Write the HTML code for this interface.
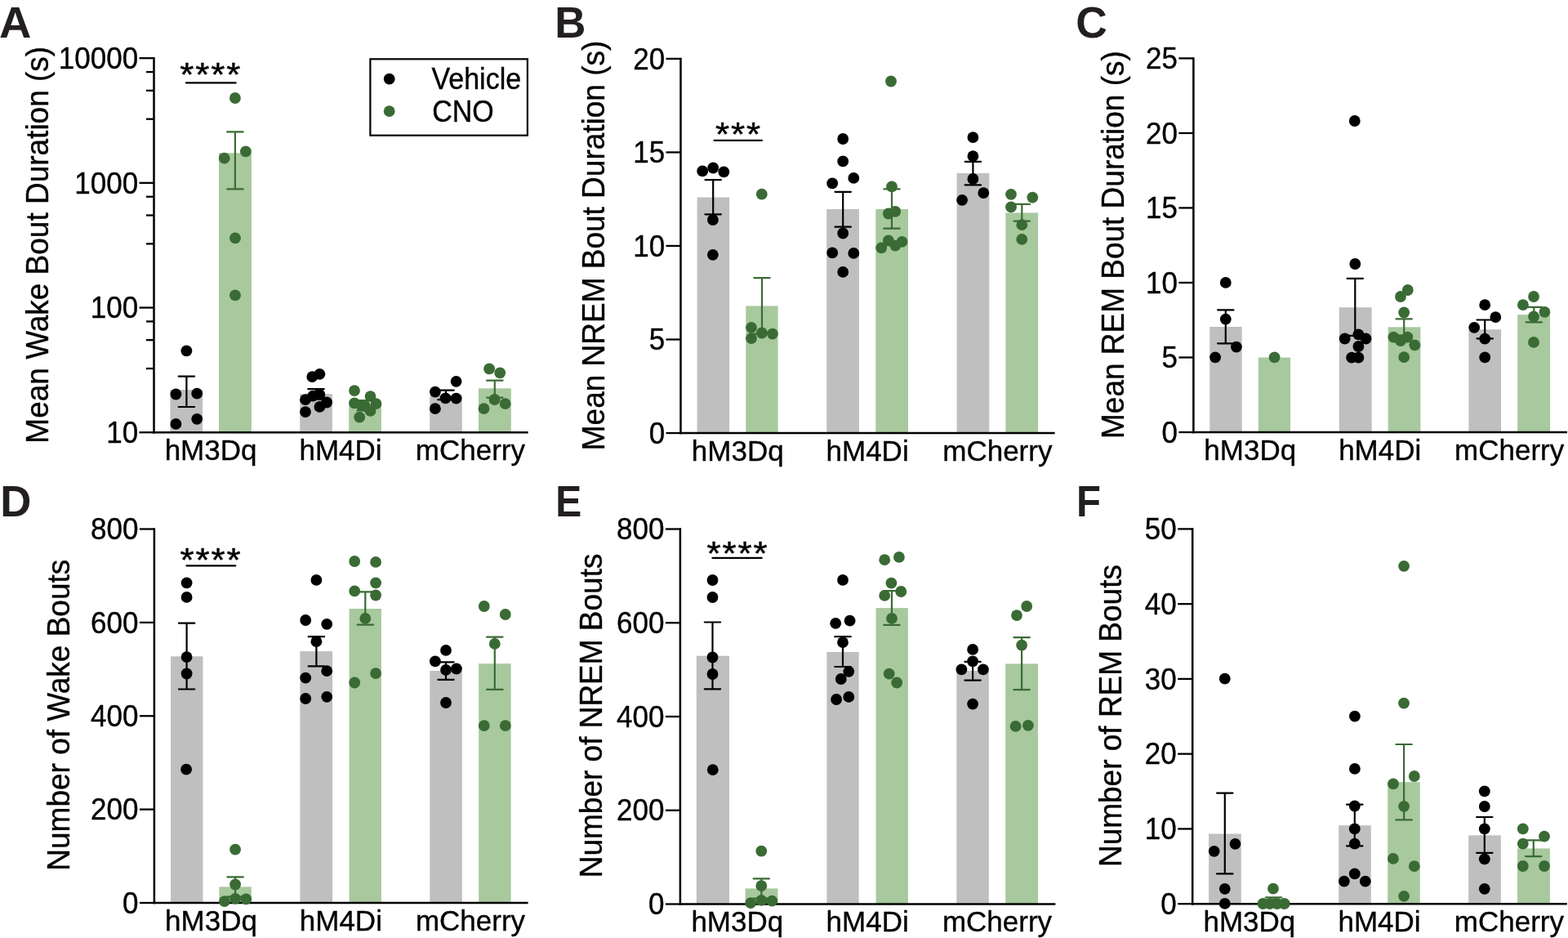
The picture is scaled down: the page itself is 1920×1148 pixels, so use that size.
<!DOCTYPE html>
<html><head><meta charset="utf-8"><title>Chemogenetic manipulation: bout duration and number of bouts</title>
<style>
html,body{margin:0;padding:0;background:#fff;}
svg{display:block;}
svg text{font-family:'Liberation Sans', Arial, Helvetica, sans-serif;}
</style></head>
<body>
<svg width="1920" height="1148" viewBox="0 0 1920 1148">
<rect x="0" y="0" width="1920" height="1148" fill="#ffffff"/>
<rect x="208.4" y="477.1" width="39.7" height="52.1" fill="#bfbfbf"/>
<rect x="268" y="187.3" width="39.9" height="341.9" fill="#a8c89e"/>
<rect x="367.2" y="482.2" width="39.7" height="47" fill="#bfbfbf"/>
<rect x="427.2" y="496.3" width="39.7" height="32.9" fill="#a8c89e"/>
<rect x="526.2" y="483.4" width="39.6" height="45.8" fill="#bfbfbf"/>
<rect x="586" y="475.3" width="39.8" height="53.9" fill="#a8c89e"/>
<line x1="188.5" y1="70.05" x2="188.5" y2="530.45" stroke="#000000" stroke-width="2.5" stroke-linecap="butt"/>
<line x1="187.25" y1="529.2" x2="646.6" y2="529.2" stroke="#000000" stroke-width="2.5" stroke-linecap="butt"/>
<line x1="170.5" y1="529.2" x2="188.5" y2="529.2" stroke="#000000" stroke-width="2.3" stroke-linecap="butt"/>
<text transform="translate(169.1,541.9) scale(1.0,1.07)" font-size="35" text-anchor="end" font-weight="normal" fill="#000000" stroke="#000000" stroke-width="0.35">10</text>
<line x1="170.5" y1="376.53" x2="188.5" y2="376.53" stroke="#000000" stroke-width="2.3" stroke-linecap="butt"/>
<text transform="translate(169.1,389.23) scale(1.0,1.07)" font-size="35" text-anchor="end" font-weight="normal" fill="#000000" stroke="#000000" stroke-width="0.35">100</text>
<line x1="170.5" y1="223.86" x2="188.5" y2="223.86" stroke="#000000" stroke-width="2.3" stroke-linecap="butt"/>
<text transform="translate(169.1,236.56) scale(1.0,1.07)" font-size="35" text-anchor="end" font-weight="normal" fill="#000000" stroke="#000000" stroke-width="0.35">1000</text>
<line x1="170.5" y1="71.19" x2="188.5" y2="71.19" stroke="#000000" stroke-width="2.3" stroke-linecap="butt"/>
<text transform="translate(169.1,83.89) scale(1.0,1.07)" font-size="35" text-anchor="end" font-weight="normal" fill="#000000" stroke="#000000" stroke-width="0.35">10000</text>
<line x1="179" y1="451.05" x2="188.5" y2="451.05" stroke="#000000" stroke-width="2.3" stroke-linecap="butt"/>
<line x1="179" y1="416.17" x2="188.5" y2="416.17" stroke="#000000" stroke-width="2.3" stroke-linecap="butt"/>
<line x1="179" y1="393.43" x2="188.5" y2="393.43" stroke="#000000" stroke-width="2.3" stroke-linecap="butt"/>
<line x1="179" y1="298.38" x2="188.5" y2="298.38" stroke="#000000" stroke-width="2.3" stroke-linecap="butt"/>
<line x1="179" y1="263.5" x2="188.5" y2="263.5" stroke="#000000" stroke-width="2.3" stroke-linecap="butt"/>
<line x1="179" y1="240.76" x2="188.5" y2="240.76" stroke="#000000" stroke-width="2.3" stroke-linecap="butt"/>
<line x1="179" y1="145.71" x2="188.5" y2="145.71" stroke="#000000" stroke-width="2.3" stroke-linecap="butt"/>
<line x1="179" y1="110.83" x2="188.5" y2="110.83" stroke="#000000" stroke-width="2.3" stroke-linecap="butt"/>
<line x1="179" y1="88.09" x2="188.5" y2="88.09" stroke="#000000" stroke-width="2.3" stroke-linecap="butt"/>
<text transform="translate(258.05,563.1)" font-size="35" text-anchor="middle" font-weight="normal" fill="#000000" stroke="#000000" stroke-width="0.35">hM3Dq</text>
<text transform="translate(417.05,563.1)" font-size="35" text-anchor="middle" font-weight="normal" fill="#000000" stroke="#000000" stroke-width="0.35">hM4Di</text>
<text transform="translate(575.9,563.1)" font-size="35" text-anchor="middle" font-weight="normal" fill="#000000" stroke="#000000" stroke-width="0.35">mCherry</text>
<text transform="translate(59.1,299.75) rotate(-90) scale(1.0,1.06)" font-size="37" text-anchor="middle" font-weight="normal" fill="#000000" stroke="#000000" stroke-width="0.35">Mean Wake Bout Duration (s)</text>
<line x1="228.4" y1="460.6" x2="228.4" y2="498" stroke="#000000" stroke-width="2.2" stroke-linecap="butt"/>
<line x1="218.7" y1="460.6" x2="238.1" y2="460.6" stroke="#000000" stroke-width="2.2" stroke-linecap="round"/>
<line x1="218.7" y1="498" x2="238.1" y2="498" stroke="#000000" stroke-width="2.2" stroke-linecap="round"/>
<line x1="287.9" y1="161.4" x2="287.9" y2="231.4" stroke="#3a6b34" stroke-width="2.2" stroke-linecap="butt"/>
<line x1="278.2" y1="161.4" x2="297.6" y2="161.4" stroke="#3a6b34" stroke-width="2.2" stroke-linecap="round"/>
<line x1="278.2" y1="231.4" x2="297.6" y2="231.4" stroke="#3a6b34" stroke-width="2.2" stroke-linecap="round"/>
<line x1="387" y1="476.2" x2="387" y2="488.2" stroke="#000000" stroke-width="2.2" stroke-linecap="butt"/>
<line x1="377.3" y1="476.2" x2="396.7" y2="476.2" stroke="#000000" stroke-width="2.2" stroke-linecap="round"/>
<line x1="377.3" y1="488.2" x2="396.7" y2="488.2" stroke="#000000" stroke-width="2.2" stroke-linecap="round"/>
<line x1="447" y1="490" x2="447" y2="502.5" stroke="#3a6b34" stroke-width="2.2" stroke-linecap="butt"/>
<line x1="437.3" y1="490" x2="456.7" y2="490" stroke="#3a6b34" stroke-width="2.2" stroke-linecap="round"/>
<line x1="437.3" y1="502.5" x2="456.7" y2="502.5" stroke="#3a6b34" stroke-width="2.2" stroke-linecap="round"/>
<line x1="546" y1="477.7" x2="546" y2="489.2" stroke="#000000" stroke-width="2.2" stroke-linecap="butt"/>
<line x1="536.3" y1="477.7" x2="555.7" y2="477.7" stroke="#000000" stroke-width="2.2" stroke-linecap="round"/>
<line x1="536.3" y1="489.2" x2="555.7" y2="489.2" stroke="#000000" stroke-width="2.2" stroke-linecap="round"/>
<line x1="605.8" y1="465.7" x2="605.8" y2="486.6" stroke="#3a6b34" stroke-width="2.2" stroke-linecap="butt"/>
<line x1="596.1" y1="465.7" x2="615.5" y2="465.7" stroke="#3a6b34" stroke-width="2.2" stroke-linecap="round"/>
<line x1="596.1" y1="486.6" x2="615.5" y2="486.6" stroke="#3a6b34" stroke-width="2.2" stroke-linecap="round"/>
<circle cx="228.4" cy="429.3" r="6.9" fill="#000000"/>
<circle cx="215.4" cy="482.5" r="6.9" fill="#000000"/>
<circle cx="241.2" cy="481.6" r="6.9" fill="#000000"/>
<circle cx="241.2" cy="512.8" r="6.9" fill="#000000"/>
<circle cx="215.4" cy="518.9" r="6.9" fill="#000000"/>
<circle cx="287.9" cy="120" r="6.9" fill="#3a6b34"/>
<circle cx="274.7" cy="193.7" r="6.9" fill="#3a6b34"/>
<circle cx="300.9" cy="185.4" r="6.9" fill="#3a6b34"/>
<circle cx="288" cy="291.4" r="6.9" fill="#3a6b34"/>
<circle cx="288" cy="361.4" r="6.9" fill="#3a6b34"/>
<circle cx="382.3" cy="461.1" r="6.9" fill="#000000"/>
<circle cx="391.4" cy="457.8" r="6.9" fill="#000000"/>
<circle cx="374" cy="489.2" r="6.9" fill="#000000"/>
<circle cx="383.1" cy="484.7" r="6.9" fill="#000000"/>
<circle cx="391.4" cy="483" r="6.9" fill="#000000"/>
<circle cx="400.1" cy="492.5" r="6.9" fill="#000000"/>
<circle cx="391.4" cy="497.9" r="6.9" fill="#000000"/>
<circle cx="374" cy="504.1" r="6.9" fill="#000000"/>
<circle cx="434" cy="478.1" r="6.9" fill="#3a6b34"/>
<circle cx="453.5" cy="485.1" r="6.9" fill="#3a6b34"/>
<circle cx="434" cy="493.4" r="6.9" fill="#3a6b34"/>
<circle cx="460.5" cy="494.2" r="6.9" fill="#3a6b34"/>
<circle cx="442.7" cy="496.3" r="6.9" fill="#3a6b34"/>
<circle cx="447" cy="497" r="6.9" fill="#3a6b34"/>
<circle cx="453.5" cy="502.9" r="6.9" fill="#3a6b34"/>
<circle cx="440.2" cy="510.7" r="6.9" fill="#3a6b34"/>
<circle cx="558.6" cy="466.8" r="6.9" fill="#000000"/>
<circle cx="532.9" cy="479.6" r="6.9" fill="#000000"/>
<circle cx="545.5" cy="487.3" r="6.9" fill="#000000"/>
<circle cx="558.6" cy="487.7" r="6.9" fill="#000000"/>
<circle cx="532.9" cy="500.2" r="6.9" fill="#000000"/>
<circle cx="599.1" cy="451.4" r="6.9" fill="#3a6b34"/>
<circle cx="612.2" cy="456.3" r="6.9" fill="#3a6b34"/>
<circle cx="605.6" cy="489" r="6.9" fill="#3a6b34"/>
<circle cx="618.7" cy="494.2" r="6.9" fill="#3a6b34"/>
<circle cx="592.5" cy="500.2" r="6.9" fill="#3a6b34"/>
<text transform="translate(220.22,104.63) scale(1.0,0.93)" font-size="44" text-anchor="start" font-weight="normal" fill="#000000" stroke="#000000" stroke-width="0.5" letter-spacing="1.9">****</text>
<line x1="227.9" y1="101.3" x2="288.7" y2="101.3" stroke="#000000" stroke-width="2.2" stroke-linecap="round"/>
<text transform="translate(-1.08,46.3)" font-size="54.5" text-anchor="start" font-weight="bold" fill="#231f20">A</text>
<rect x="853.6" y="241.5" width="39.5" height="288.5" fill="#bfbfbf"/>
<rect x="913.3" y="374.4" width="39.3" height="155.6" fill="#a8c89e"/>
<rect x="1012.2" y="255.9" width="39.7" height="274.1" fill="#bfbfbf"/>
<rect x="1072.3" y="255.9" width="39.7" height="274.1" fill="#a8c89e"/>
<rect x="1171.6" y="212" width="39.7" height="318" fill="#bfbfbf"/>
<rect x="1231.4" y="260.4" width="39.7" height="269.6" fill="#a8c89e"/>
<line x1="833.5" y1="70.75" x2="833.5" y2="531.25" stroke="#000000" stroke-width="2.5" stroke-linecap="butt"/>
<line x1="832.25" y1="530" x2="1291.6" y2="530" stroke="#000000" stroke-width="2.5" stroke-linecap="butt"/>
<line x1="815.5" y1="530" x2="833.5" y2="530" stroke="#000000" stroke-width="2.3" stroke-linecap="butt"/>
<text transform="translate(814.1,542.7) scale(1.0,1.07)" font-size="35" text-anchor="end" font-weight="normal" fill="#000000" stroke="#000000" stroke-width="0.35">0</text>
<line x1="815.5" y1="415.48" x2="833.5" y2="415.48" stroke="#000000" stroke-width="2.3" stroke-linecap="butt"/>
<text transform="translate(814.1,428.18) scale(1.0,1.07)" font-size="35" text-anchor="end" font-weight="normal" fill="#000000" stroke="#000000" stroke-width="0.35">5</text>
<line x1="815.5" y1="300.95" x2="833.5" y2="300.95" stroke="#000000" stroke-width="2.3" stroke-linecap="butt"/>
<text transform="translate(814.1,313.65) scale(1.0,1.07)" font-size="35" text-anchor="end" font-weight="normal" fill="#000000" stroke="#000000" stroke-width="0.35">10</text>
<line x1="815.5" y1="186.42" x2="833.5" y2="186.42" stroke="#000000" stroke-width="2.3" stroke-linecap="butt"/>
<text transform="translate(814.1,199.12) scale(1.0,1.07)" font-size="35" text-anchor="end" font-weight="normal" fill="#000000" stroke="#000000" stroke-width="0.35">15</text>
<line x1="815.5" y1="71.9" x2="833.5" y2="71.9" stroke="#000000" stroke-width="2.3" stroke-linecap="butt"/>
<text transform="translate(814.1,84.6) scale(1.0,1.07)" font-size="35" text-anchor="end" font-weight="normal" fill="#000000" stroke="#000000" stroke-width="0.35">20</text>
<text transform="translate(903.2,563.9)" font-size="35" text-anchor="middle" font-weight="normal" fill="#000000" stroke="#000000" stroke-width="0.35">hM3Dq</text>
<text transform="translate(1062.1,563.9)" font-size="35" text-anchor="middle" font-weight="normal" fill="#000000" stroke="#000000" stroke-width="0.35">hM4Di</text>
<text transform="translate(1221.35,563.9)" font-size="35" text-anchor="middle" font-weight="normal" fill="#000000" stroke="#000000" stroke-width="0.35">mCherry</text>
<text transform="translate(740,300.45) rotate(-90) scale(1.0,1.06)" font-size="37" text-anchor="middle" font-weight="normal" fill="#000000" stroke="#000000" stroke-width="0.35">Mean NREM Bout Duration (s)</text>
<line x1="873.2" y1="220.1" x2="873.2" y2="262.3" stroke="#000000" stroke-width="2.2" stroke-linecap="butt"/>
<line x1="863.5" y1="220.1" x2="882.9" y2="220.1" stroke="#000000" stroke-width="2.2" stroke-linecap="round"/>
<line x1="863.5" y1="262.3" x2="882.9" y2="262.3" stroke="#000000" stroke-width="2.2" stroke-linecap="round"/>
<line x1="933" y1="340.1" x2="933" y2="408.7" stroke="#3a6b34" stroke-width="2.2" stroke-linecap="butt"/>
<line x1="923.3" y1="340.1" x2="942.7" y2="340.1" stroke="#3a6b34" stroke-width="2.2" stroke-linecap="round"/>
<line x1="923.3" y1="408.7" x2="942.7" y2="408.7" stroke="#3a6b34" stroke-width="2.2" stroke-linecap="round"/>
<line x1="1032.2" y1="234.8" x2="1032.2" y2="277.7" stroke="#000000" stroke-width="2.2" stroke-linecap="butt"/>
<line x1="1022.5" y1="234.8" x2="1041.9" y2="234.8" stroke="#000000" stroke-width="2.2" stroke-linecap="round"/>
<line x1="1022.5" y1="277.7" x2="1041.9" y2="277.7" stroke="#000000" stroke-width="2.2" stroke-linecap="round"/>
<line x1="1092" y1="231.3" x2="1092" y2="279.7" stroke="#3a6b34" stroke-width="2.2" stroke-linecap="butt"/>
<line x1="1082.3" y1="231.3" x2="1101.7" y2="231.3" stroke="#3a6b34" stroke-width="2.2" stroke-linecap="round"/>
<line x1="1082.3" y1="279.7" x2="1101.7" y2="279.7" stroke="#3a6b34" stroke-width="2.2" stroke-linecap="round"/>
<line x1="1191.4" y1="197.8" x2="1191.4" y2="226.4" stroke="#000000" stroke-width="2.2" stroke-linecap="butt"/>
<line x1="1181.7" y1="197.8" x2="1201.1" y2="197.8" stroke="#000000" stroke-width="2.2" stroke-linecap="round"/>
<line x1="1181.7" y1="226.4" x2="1201.1" y2="226.4" stroke="#000000" stroke-width="2.2" stroke-linecap="round"/>
<line x1="1251.3" y1="249.9" x2="1251.3" y2="270.6" stroke="#3a6b34" stroke-width="2.2" stroke-linecap="butt"/>
<line x1="1241.6" y1="249.9" x2="1261" y2="249.9" stroke="#3a6b34" stroke-width="2.2" stroke-linecap="round"/>
<line x1="1241.6" y1="270.6" x2="1261" y2="270.6" stroke="#3a6b34" stroke-width="2.2" stroke-linecap="round"/>
<circle cx="860.2" cy="209.4" r="6.9" fill="#000000"/>
<circle cx="873.2" cy="205.5" r="6.9" fill="#000000"/>
<circle cx="886.3" cy="210.3" r="6.9" fill="#000000"/>
<circle cx="872.9" cy="269" r="6.9" fill="#000000"/>
<circle cx="872.9" cy="311.8" r="6.9" fill="#000000"/>
<circle cx="932.8" cy="237.7" r="6.9" fill="#3a6b34"/>
<circle cx="920" cy="400.8" r="6.9" fill="#3a6b34"/>
<circle cx="932.9" cy="407.5" r="6.9" fill="#3a6b34"/>
<circle cx="945.9" cy="408.6" r="6.9" fill="#3a6b34"/>
<circle cx="920" cy="414.1" r="6.9" fill="#3a6b34"/>
<circle cx="1032.2" cy="170" r="6.9" fill="#000000"/>
<circle cx="1032.2" cy="197.4" r="6.9" fill="#000000"/>
<circle cx="1045.3" cy="217.9" r="6.9" fill="#000000"/>
<circle cx="1019.2" cy="224.4" r="6.9" fill="#000000"/>
<circle cx="1032.2" cy="285.5" r="6.9" fill="#000000"/>
<circle cx="1019.2" cy="309.4" r="6.9" fill="#000000"/>
<circle cx="1045.3" cy="309.9" r="6.9" fill="#000000"/>
<circle cx="1032.2" cy="332.9" r="6.9" fill="#000000"/>
<circle cx="1091" cy="99.5" r="6.9" fill="#3a6b34"/>
<circle cx="1092" cy="228.4" r="6.9" fill="#3a6b34"/>
<circle cx="1087.9" cy="261.5" r="6.9" fill="#3a6b34"/>
<circle cx="1096.3" cy="258.8" r="6.9" fill="#3a6b34"/>
<circle cx="1087.9" cy="294.5" r="6.9" fill="#3a6b34"/>
<circle cx="1104.5" cy="295.9" r="6.9" fill="#3a6b34"/>
<circle cx="1096.3" cy="300.6" r="6.9" fill="#3a6b34"/>
<circle cx="1079.2" cy="303.3" r="6.9" fill="#3a6b34"/>
<circle cx="1191.4" cy="168.1" r="6.9" fill="#000000"/>
<circle cx="1191.4" cy="191.1" r="6.9" fill="#000000"/>
<circle cx="1191.4" cy="219" r="6.9" fill="#000000"/>
<circle cx="1204.3" cy="236.1" r="6.9" fill="#000000"/>
<circle cx="1178.1" cy="244.8" r="6.9" fill="#000000"/>
<circle cx="1238" cy="237.8" r="6.9" fill="#3a6b34"/>
<circle cx="1264.3" cy="241.6" r="6.9" fill="#3a6b34"/>
<circle cx="1238" cy="253.4" r="6.9" fill="#3a6b34"/>
<circle cx="1251.3" cy="275.2" r="6.9" fill="#3a6b34"/>
<circle cx="1251.3" cy="292.9" r="6.9" fill="#3a6b34"/>
<text transform="translate(875.92,177.53) scale(1.0,0.93)" font-size="44" text-anchor="start" font-weight="normal" fill="#000000" stroke="#000000" stroke-width="0.5" letter-spacing="1.9">***</text>
<line x1="874.5" y1="171.8" x2="933" y2="171.8" stroke="#000000" stroke-width="2.2" stroke-linecap="round"/>
<text transform="translate(679.14,46.3) scale(0.97,1.0)" font-size="54.5" text-anchor="start" font-weight="bold" fill="#231f20">B</text>
<rect x="1481.3" y="400" width="39.4" height="129" fill="#bfbfbf"/>
<rect x="1540.8" y="437.6" width="39.3" height="91.4" fill="#a8c89e"/>
<rect x="1639.8" y="376.2" width="39.9" height="152.8" fill="#bfbfbf"/>
<rect x="1699.7" y="400.3" width="39.7" height="128.7" fill="#a8c89e"/>
<rect x="1798.4" y="403.2" width="39.7" height="125.8" fill="#bfbfbf"/>
<rect x="1858.2" y="385.1" width="39.9" height="143.9" fill="#a8c89e"/>
<line x1="1461.4" y1="70.25" x2="1461.4" y2="530.25" stroke="#000000" stroke-width="2.5" stroke-linecap="butt"/>
<line x1="1460.15" y1="529" x2="1919" y2="529" stroke="#000000" stroke-width="2.5" stroke-linecap="butt"/>
<line x1="1443.4" y1="529" x2="1461.4" y2="529" stroke="#000000" stroke-width="2.3" stroke-linecap="butt"/>
<text transform="translate(1442,541.7) scale(1.0,1.07)" font-size="35" text-anchor="end" font-weight="normal" fill="#000000" stroke="#000000" stroke-width="0.35">0</text>
<line x1="1443.4" y1="437.48" x2="1461.4" y2="437.48" stroke="#000000" stroke-width="2.3" stroke-linecap="butt"/>
<text transform="translate(1442,450.18) scale(1.0,1.07)" font-size="35" text-anchor="end" font-weight="normal" fill="#000000" stroke="#000000" stroke-width="0.35">5</text>
<line x1="1443.4" y1="345.96" x2="1461.4" y2="345.96" stroke="#000000" stroke-width="2.3" stroke-linecap="butt"/>
<text transform="translate(1442,358.66) scale(1.0,1.07)" font-size="35" text-anchor="end" font-weight="normal" fill="#000000" stroke="#000000" stroke-width="0.35">10</text>
<line x1="1443.4" y1="254.44" x2="1461.4" y2="254.44" stroke="#000000" stroke-width="2.3" stroke-linecap="butt"/>
<text transform="translate(1442,267.14) scale(1.0,1.07)" font-size="35" text-anchor="end" font-weight="normal" fill="#000000" stroke="#000000" stroke-width="0.35">15</text>
<line x1="1443.4" y1="162.92" x2="1461.4" y2="162.92" stroke="#000000" stroke-width="2.3" stroke-linecap="butt"/>
<text transform="translate(1442,175.62) scale(1.0,1.07)" font-size="35" text-anchor="end" font-weight="normal" fill="#000000" stroke="#000000" stroke-width="0.35">20</text>
<line x1="1443.4" y1="71.4" x2="1461.4" y2="71.4" stroke="#000000" stroke-width="2.3" stroke-linecap="butt"/>
<text transform="translate(1442,84.1) scale(1.0,1.07)" font-size="35" text-anchor="end" font-weight="normal" fill="#000000" stroke="#000000" stroke-width="0.35">25</text>
<text transform="translate(1530.75,562.9)" font-size="35" text-anchor="middle" font-weight="normal" fill="#000000" stroke="#000000" stroke-width="0.35">hM3Dq</text>
<text transform="translate(1689.7,562.9)" font-size="35" text-anchor="middle" font-weight="normal" fill="#000000" stroke="#000000" stroke-width="0.35">hM4Di</text>
<text transform="translate(1848.15,562.9)" font-size="35" text-anchor="middle" font-weight="normal" fill="#000000" stroke="#000000" stroke-width="0.35">mCherry</text>
<text transform="translate(1376.2,299.6) rotate(-90) scale(1.0,1.06)" font-size="37" text-anchor="middle" font-weight="normal" fill="#000000" stroke="#000000" stroke-width="0.35">Mean REM Bout Duration (s)</text>
<line x1="1500.8" y1="379.3" x2="1500.8" y2="420.3" stroke="#000000" stroke-width="2.2" stroke-linecap="butt"/>
<line x1="1491.1" y1="379.3" x2="1510.5" y2="379.3" stroke="#000000" stroke-width="2.2" stroke-linecap="round"/>
<line x1="1491.1" y1="420.3" x2="1510.5" y2="420.3" stroke="#000000" stroke-width="2.2" stroke-linecap="round"/>
<line x1="1659.3" y1="340.8" x2="1659.3" y2="410.8" stroke="#000000" stroke-width="2.2" stroke-linecap="butt"/>
<line x1="1649.6" y1="340.8" x2="1669" y2="340.8" stroke="#000000" stroke-width="2.2" stroke-linecap="round"/>
<line x1="1649.6" y1="410.8" x2="1669" y2="410.8" stroke="#000000" stroke-width="2.2" stroke-linecap="round"/>
<line x1="1719.2" y1="390.3" x2="1719.2" y2="410.3" stroke="#3a6b34" stroke-width="2.2" stroke-linecap="butt"/>
<line x1="1709.5" y1="390.3" x2="1728.9" y2="390.3" stroke="#3a6b34" stroke-width="2.2" stroke-linecap="round"/>
<line x1="1709.5" y1="410.3" x2="1728.9" y2="410.3" stroke="#3a6b34" stroke-width="2.2" stroke-linecap="round"/>
<line x1="1818.2" y1="391.5" x2="1818.2" y2="414.4" stroke="#000000" stroke-width="2.2" stroke-linecap="butt"/>
<line x1="1808.5" y1="391.5" x2="1827.9" y2="391.5" stroke="#000000" stroke-width="2.2" stroke-linecap="round"/>
<line x1="1808.5" y1="414.4" x2="1827.9" y2="414.4" stroke="#000000" stroke-width="2.2" stroke-linecap="round"/>
<line x1="1878.3" y1="375.8" x2="1878.3" y2="394.3" stroke="#3a6b34" stroke-width="2.2" stroke-linecap="butt"/>
<line x1="1868.6" y1="375.8" x2="1888" y2="375.8" stroke="#3a6b34" stroke-width="2.2" stroke-linecap="round"/>
<line x1="1868.6" y1="394.3" x2="1888" y2="394.3" stroke="#3a6b34" stroke-width="2.2" stroke-linecap="round"/>
<circle cx="1500.8" cy="345.9" r="6.9" fill="#000000"/>
<circle cx="1500.8" cy="390.6" r="6.9" fill="#000000"/>
<circle cx="1513.9" cy="424.6" r="6.9" fill="#000000"/>
<circle cx="1488.1" cy="437.3" r="6.9" fill="#000000"/>
<circle cx="1560.6" cy="437.3" r="6.9" fill="#3a6b34"/>
<circle cx="1658.8" cy="148" r="6.9" fill="#000000"/>
<circle cx="1659.3" cy="323" r="6.9" fill="#000000"/>
<circle cx="1646.7" cy="414.5" r="6.9" fill="#000000"/>
<circle cx="1663.4" cy="409.4" r="6.9" fill="#000000"/>
<circle cx="1672.5" cy="414.5" r="6.9" fill="#000000"/>
<circle cx="1663.4" cy="424" r="6.9" fill="#000000"/>
<circle cx="1655.1" cy="437.7" r="6.9" fill="#000000"/>
<circle cx="1663.4" cy="437.7" r="6.9" fill="#000000"/>
<circle cx="1723.8" cy="355" r="6.9" fill="#3a6b34"/>
<circle cx="1715" cy="363" r="6.9" fill="#3a6b34"/>
<circle cx="1719.2" cy="382.5" r="6.9" fill="#3a6b34"/>
<circle cx="1706.4" cy="412.6" r="6.9" fill="#3a6b34"/>
<circle cx="1723.4" cy="412.6" r="6.9" fill="#3a6b34"/>
<circle cx="1715" cy="417" r="6.9" fill="#3a6b34"/>
<circle cx="1732.4" cy="422.3" r="6.9" fill="#3a6b34"/>
<circle cx="1719.2" cy="437.2" r="6.9" fill="#3a6b34"/>
<circle cx="1818.2" cy="373.2" r="6.9" fill="#000000"/>
<circle cx="1831.3" cy="388.1" r="6.9" fill="#000000"/>
<circle cx="1805.2" cy="400.8" r="6.9" fill="#000000"/>
<circle cx="1818.2" cy="414.7" r="6.9" fill="#000000"/>
<circle cx="1818.2" cy="437.4" r="6.9" fill="#000000"/>
<circle cx="1878" cy="363" r="6.9" fill="#3a6b34"/>
<circle cx="1864.9" cy="373.2" r="6.9" fill="#3a6b34"/>
<circle cx="1891.4" cy="381.8" r="6.9" fill="#3a6b34"/>
<circle cx="1878" cy="387.5" r="6.9" fill="#3a6b34"/>
<circle cx="1878" cy="418.9" r="6.9" fill="#3a6b34"/>
<text transform="translate(1317.25,46.3) scale(0.98,1.0)" font-size="54.5" text-anchor="start" font-weight="bold" fill="#231f20">C</text>
<rect x="209.1" y="803.3" width="39.4" height="301.7" fill="#bfbfbf"/>
<rect x="268.4" y="1085.4" width="39.4" height="19.6" fill="#a8c89e"/>
<rect x="367.4" y="797.1" width="39.7" height="307.9" fill="#bfbfbf"/>
<rect x="427.6" y="745" width="39.3" height="360" fill="#a8c89e"/>
<rect x="526.3" y="821" width="39.5" height="284" fill="#bfbfbf"/>
<rect x="586.2" y="812.2" width="39.4" height="292.8" fill="#a8c89e"/>
<line x1="188.9" y1="646.35" x2="188.9" y2="1106.25" stroke="#000000" stroke-width="2.5" stroke-linecap="butt"/>
<line x1="187.65" y1="1105" x2="646.6" y2="1105" stroke="#000000" stroke-width="2.5" stroke-linecap="butt"/>
<line x1="170.9" y1="1105" x2="188.9" y2="1105" stroke="#000000" stroke-width="2.3" stroke-linecap="butt"/>
<text transform="translate(169.5,1117.7) scale(1.0,1.07)" font-size="35" text-anchor="end" font-weight="normal" fill="#000000" stroke="#000000" stroke-width="0.35">0</text>
<line x1="170.9" y1="990.62" x2="188.9" y2="990.62" stroke="#000000" stroke-width="2.3" stroke-linecap="butt"/>
<text transform="translate(169.5,1003.33) scale(1.0,1.07)" font-size="35" text-anchor="end" font-weight="normal" fill="#000000" stroke="#000000" stroke-width="0.35">200</text>
<line x1="170.9" y1="876.25" x2="188.9" y2="876.25" stroke="#000000" stroke-width="2.3" stroke-linecap="butt"/>
<text transform="translate(169.5,888.95) scale(1.0,1.07)" font-size="35" text-anchor="end" font-weight="normal" fill="#000000" stroke="#000000" stroke-width="0.35">400</text>
<line x1="170.9" y1="761.88" x2="188.9" y2="761.88" stroke="#000000" stroke-width="2.3" stroke-linecap="butt"/>
<text transform="translate(169.5,774.58) scale(1.0,1.07)" font-size="35" text-anchor="end" font-weight="normal" fill="#000000" stroke="#000000" stroke-width="0.35">600</text>
<line x1="170.9" y1="647.5" x2="188.9" y2="647.5" stroke="#000000" stroke-width="2.3" stroke-linecap="butt"/>
<text transform="translate(169.5,660.2) scale(1.0,1.07)" font-size="35" text-anchor="end" font-weight="normal" fill="#000000" stroke="#000000" stroke-width="0.35">800</text>
<text transform="translate(258.45,1138.9)" font-size="35" text-anchor="middle" font-weight="normal" fill="#000000" stroke="#000000" stroke-width="0.35">hM3Dq</text>
<text transform="translate(417.35,1138.9)" font-size="35" text-anchor="middle" font-weight="normal" fill="#000000" stroke="#000000" stroke-width="0.35">hM4Di</text>
<text transform="translate(576,1138.9)" font-size="35" text-anchor="middle" font-weight="normal" fill="#000000" stroke="#000000" stroke-width="0.35">mCherry</text>
<text transform="translate(84.7,875.2) rotate(-90) scale(1.0,1.06)" font-size="37" text-anchor="middle" font-weight="normal" fill="#000000" stroke="#000000" stroke-width="0.35">Number of Wake Bouts</text>
<line x1="228.6" y1="762.7" x2="228.6" y2="843.5" stroke="#000000" stroke-width="2.2" stroke-linecap="butt"/>
<line x1="218.9" y1="762.7" x2="238.3" y2="762.7" stroke="#000000" stroke-width="2.2" stroke-linecap="round"/>
<line x1="218.9" y1="843.5" x2="238.3" y2="843.5" stroke="#000000" stroke-width="2.2" stroke-linecap="round"/>
<line x1="288.1" y1="1073.4" x2="288.1" y2="1097.4" stroke="#3a6b34" stroke-width="2.2" stroke-linecap="butt"/>
<line x1="278.4" y1="1073.4" x2="297.8" y2="1073.4" stroke="#3a6b34" stroke-width="2.2" stroke-linecap="round"/>
<line x1="278.4" y1="1097.4" x2="297.8" y2="1097.4" stroke="#3a6b34" stroke-width="2.2" stroke-linecap="round"/>
<line x1="387.4" y1="779.2" x2="387.4" y2="815.4" stroke="#000000" stroke-width="2.2" stroke-linecap="butt"/>
<line x1="377.7" y1="779.2" x2="397.1" y2="779.2" stroke="#000000" stroke-width="2.2" stroke-linecap="round"/>
<line x1="377.7" y1="815.4" x2="397.1" y2="815.4" stroke="#000000" stroke-width="2.2" stroke-linecap="round"/>
<line x1="447.3" y1="724.3" x2="447.3" y2="764.7" stroke="#3a6b34" stroke-width="2.2" stroke-linecap="butt"/>
<line x1="437.6" y1="724.3" x2="457" y2="724.3" stroke="#3a6b34" stroke-width="2.2" stroke-linecap="round"/>
<line x1="437.6" y1="764.7" x2="457" y2="764.7" stroke="#3a6b34" stroke-width="2.2" stroke-linecap="round"/>
<line x1="546" y1="810.3" x2="546" y2="831.8" stroke="#000000" stroke-width="2.2" stroke-linecap="butt"/>
<line x1="536.3" y1="810.3" x2="555.7" y2="810.3" stroke="#000000" stroke-width="2.2" stroke-linecap="round"/>
<line x1="536.3" y1="831.8" x2="555.7" y2="831.8" stroke="#000000" stroke-width="2.2" stroke-linecap="round"/>
<line x1="605.8" y1="779.6" x2="605.8" y2="843.9" stroke="#3a6b34" stroke-width="2.2" stroke-linecap="butt"/>
<line x1="596.1" y1="779.6" x2="615.5" y2="779.6" stroke="#3a6b34" stroke-width="2.2" stroke-linecap="round"/>
<line x1="596.1" y1="843.9" x2="615.5" y2="843.9" stroke="#3a6b34" stroke-width="2.2" stroke-linecap="round"/>
<circle cx="228.6" cy="713.3" r="6.9" fill="#000000"/>
<circle cx="228.6" cy="730.9" r="6.9" fill="#000000"/>
<circle cx="228.6" cy="804.1" r="6.9" fill="#000000"/>
<circle cx="228.6" cy="824.5" r="6.9" fill="#000000"/>
<circle cx="228.1" cy="941.7" r="6.9" fill="#000000"/>
<circle cx="288.1" cy="1039.7" r="6.9" fill="#3a6b34"/>
<circle cx="288.1" cy="1082.5" r="6.9" fill="#3a6b34"/>
<circle cx="288.1" cy="1099.8" r="6.9" fill="#3a6b34"/>
<circle cx="301.3" cy="1100.3" r="6.9" fill="#3a6b34"/>
<circle cx="274.9" cy="1103.2" r="6.9" fill="#3a6b34"/>
<circle cx="387.4" cy="709.9" r="6.9" fill="#000000"/>
<circle cx="374.2" cy="759" r="6.9" fill="#000000"/>
<circle cx="400.2" cy="763.8" r="6.9" fill="#000000"/>
<circle cx="387.4" cy="785.2" r="6.9" fill="#000000"/>
<circle cx="400.2" cy="821.2" r="6.9" fill="#000000"/>
<circle cx="374.2" cy="829.6" r="6.9" fill="#000000"/>
<circle cx="400.2" cy="852.8" r="6.9" fill="#000000"/>
<circle cx="374.2" cy="855" r="6.9" fill="#000000"/>
<circle cx="434.2" cy="687" r="6.9" fill="#3a6b34"/>
<circle cx="460.1" cy="687.9" r="6.9" fill="#3a6b34"/>
<circle cx="460.1" cy="713.3" r="6.9" fill="#3a6b34"/>
<circle cx="434.2" cy="723.4" r="6.9" fill="#3a6b34"/>
<circle cx="460.1" cy="728.5" r="6.9" fill="#3a6b34"/>
<circle cx="447.3" cy="756.9" r="6.9" fill="#3a6b34"/>
<circle cx="460.1" cy="824.1" r="6.9" fill="#3a6b34"/>
<circle cx="434.2" cy="835.5" r="6.9" fill="#3a6b34"/>
<circle cx="546" cy="795.9" r="6.9" fill="#000000"/>
<circle cx="532.9" cy="809.4" r="6.9" fill="#000000"/>
<circle cx="546" cy="819.9" r="6.9" fill="#000000"/>
<circle cx="558.9" cy="818.5" r="6.9" fill="#000000"/>
<circle cx="546" cy="860" r="6.9" fill="#000000"/>
<circle cx="592.8" cy="742" r="6.9" fill="#3a6b34"/>
<circle cx="618.8" cy="752" r="6.9" fill="#3a6b34"/>
<circle cx="605.8" cy="787.9" r="6.9" fill="#3a6b34"/>
<circle cx="592.8" cy="888.1" r="6.9" fill="#3a6b34"/>
<circle cx="618.8" cy="888.1" r="6.9" fill="#3a6b34"/>
<text transform="translate(220.52,699.03) scale(1.0,0.93)" font-size="44" text-anchor="start" font-weight="normal" fill="#000000" stroke="#000000" stroke-width="0.5" letter-spacing="1.9">****</text>
<line x1="228.4" y1="692.3" x2="288.3" y2="692.3" stroke="#000000" stroke-width="2.2" stroke-linecap="round"/>
<text transform="translate(0.34,632) scale(0.97,1.0)" font-size="54.5" text-anchor="start" font-weight="bold" fill="#231f20">D</text>
<rect x="852.8" y="802.7" width="40.2" height="303.8" fill="#bfbfbf"/>
<rect x="912.6" y="1087.4" width="39.9" height="19.1" fill="#a8c89e"/>
<rect x="1012.4" y="798" width="39.3" height="308.5" fill="#bfbfbf"/>
<rect x="1072.6" y="744.1" width="39.3" height="362.4" fill="#a8c89e"/>
<rect x="1171.3" y="821" width="39.5" height="285.5" fill="#bfbfbf"/>
<rect x="1231.2" y="812.4" width="39.8" height="294.1" fill="#a8c89e"/>
<line x1="832.9" y1="646.35" x2="832.9" y2="1107.75" stroke="#000000" stroke-width="2.5" stroke-linecap="butt"/>
<line x1="831.65" y1="1106.5" x2="1292.4" y2="1106.5" stroke="#000000" stroke-width="2.5" stroke-linecap="butt"/>
<line x1="814.9" y1="1106.5" x2="832.9" y2="1106.5" stroke="#000000" stroke-width="2.3" stroke-linecap="butt"/>
<text transform="translate(813.5,1119.2) scale(1.0,1.07)" font-size="35" text-anchor="end" font-weight="normal" fill="#000000" stroke="#000000" stroke-width="0.35">0</text>
<line x1="814.9" y1="991.75" x2="832.9" y2="991.75" stroke="#000000" stroke-width="2.3" stroke-linecap="butt"/>
<text transform="translate(813.5,1004.45) scale(1.0,1.07)" font-size="35" text-anchor="end" font-weight="normal" fill="#000000" stroke="#000000" stroke-width="0.35">200</text>
<line x1="814.9" y1="877" x2="832.9" y2="877" stroke="#000000" stroke-width="2.3" stroke-linecap="butt"/>
<text transform="translate(813.5,889.7) scale(1.0,1.07)" font-size="35" text-anchor="end" font-weight="normal" fill="#000000" stroke="#000000" stroke-width="0.35">400</text>
<line x1="814.9" y1="762.25" x2="832.9" y2="762.25" stroke="#000000" stroke-width="2.3" stroke-linecap="butt"/>
<text transform="translate(813.5,774.95) scale(1.0,1.07)" font-size="35" text-anchor="end" font-weight="normal" fill="#000000" stroke="#000000" stroke-width="0.35">600</text>
<line x1="814.9" y1="647.5" x2="832.9" y2="647.5" stroke="#000000" stroke-width="2.3" stroke-linecap="butt"/>
<text transform="translate(813.5,660.2) scale(1.0,1.07)" font-size="35" text-anchor="end" font-weight="normal" fill="#000000" stroke="#000000" stroke-width="0.35">800</text>
<text transform="translate(902.8,1140.4)" font-size="35" text-anchor="middle" font-weight="normal" fill="#000000" stroke="#000000" stroke-width="0.35">hM3Dq</text>
<text transform="translate(1062.15,1140.4)" font-size="35" text-anchor="middle" font-weight="normal" fill="#000000" stroke="#000000" stroke-width="0.35">hM4Di</text>
<text transform="translate(1221,1140.4)" font-size="35" text-anchor="middle" font-weight="normal" fill="#000000" stroke="#000000" stroke-width="0.35">mCherry</text>
<text transform="translate(736.8,875.9) rotate(-90) scale(1.0,1.06)" font-size="37" text-anchor="middle" font-weight="normal" fill="#000000" stroke="#000000" stroke-width="0.35">Number of NREM Bouts</text>
<line x1="872.5" y1="761.5" x2="872.5" y2="843.3" stroke="#000000" stroke-width="2.2" stroke-linecap="butt"/>
<line x1="862.8" y1="761.5" x2="882.2" y2="761.5" stroke="#000000" stroke-width="2.2" stroke-linecap="round"/>
<line x1="862.8" y1="843.3" x2="882.2" y2="843.3" stroke="#000000" stroke-width="2.2" stroke-linecap="round"/>
<line x1="932.3" y1="1075.3" x2="932.3" y2="1099.5" stroke="#3a6b34" stroke-width="2.2" stroke-linecap="butt"/>
<line x1="922.6" y1="1075.3" x2="942" y2="1075.3" stroke="#3a6b34" stroke-width="2.2" stroke-linecap="round"/>
<line x1="922.6" y1="1099.5" x2="942" y2="1099.5" stroke="#3a6b34" stroke-width="2.2" stroke-linecap="round"/>
<line x1="1032" y1="779.2" x2="1032" y2="816" stroke="#000000" stroke-width="2.2" stroke-linecap="butt"/>
<line x1="1022.3" y1="779.2" x2="1041.7" y2="779.2" stroke="#000000" stroke-width="2.2" stroke-linecap="round"/>
<line x1="1022.3" y1="816" x2="1041.7" y2="816" stroke="#000000" stroke-width="2.2" stroke-linecap="round"/>
<line x1="1092" y1="723.1" x2="1092" y2="764.8" stroke="#3a6b34" stroke-width="2.2" stroke-linecap="butt"/>
<line x1="1082.3" y1="723.1" x2="1101.7" y2="723.1" stroke="#3a6b34" stroke-width="2.2" stroke-linecap="round"/>
<line x1="1082.3" y1="764.8" x2="1101.7" y2="764.8" stroke="#3a6b34" stroke-width="2.2" stroke-linecap="round"/>
<line x1="1191.1" y1="809.9" x2="1191.1" y2="832.6" stroke="#000000" stroke-width="2.2" stroke-linecap="butt"/>
<line x1="1181.4" y1="809.9" x2="1200.8" y2="809.9" stroke="#000000" stroke-width="2.2" stroke-linecap="round"/>
<line x1="1181.4" y1="832.6" x2="1200.8" y2="832.6" stroke="#000000" stroke-width="2.2" stroke-linecap="round"/>
<line x1="1251.1" y1="780.1" x2="1251.1" y2="844.2" stroke="#3a6b34" stroke-width="2.2" stroke-linecap="butt"/>
<line x1="1241.4" y1="780.1" x2="1260.8" y2="780.1" stroke="#3a6b34" stroke-width="2.2" stroke-linecap="round"/>
<line x1="1241.4" y1="844.2" x2="1260.8" y2="844.2" stroke="#3a6b34" stroke-width="2.2" stroke-linecap="round"/>
<circle cx="872.5" cy="710" r="6.9" fill="#000000"/>
<circle cx="872.5" cy="731" r="6.9" fill="#000000"/>
<circle cx="872.5" cy="804.5" r="6.9" fill="#000000"/>
<circle cx="872.5" cy="825" r="6.9" fill="#000000"/>
<circle cx="872.8" cy="942.2" r="6.9" fill="#000000"/>
<circle cx="932.3" cy="1041.7" r="6.9" fill="#3a6b34"/>
<circle cx="932.3" cy="1084.1" r="6.9" fill="#3a6b34"/>
<circle cx="932.3" cy="1101.9" r="6.9" fill="#3a6b34"/>
<circle cx="945.3" cy="1102.6" r="6.9" fill="#3a6b34"/>
<circle cx="919.2" cy="1105.2" r="6.9" fill="#3a6b34"/>
<circle cx="1032" cy="709.9" r="6.9" fill="#000000"/>
<circle cx="1023.2" cy="762.8" r="6.9" fill="#000000"/>
<circle cx="1040.6" cy="759.7" r="6.9" fill="#000000"/>
<circle cx="1032" cy="786.2" r="6.9" fill="#000000"/>
<circle cx="1039.3" cy="821.8" r="6.9" fill="#000000"/>
<circle cx="1029.8" cy="831" r="6.9" fill="#000000"/>
<circle cx="1039.3" cy="852.9" r="6.9" fill="#000000"/>
<circle cx="1024.1" cy="856" r="6.9" fill="#000000"/>
<circle cx="1083.2" cy="685.2" r="6.9" fill="#3a6b34"/>
<circle cx="1100.9" cy="681.9" r="6.9" fill="#3a6b34"/>
<circle cx="1091.4" cy="713.6" r="6.9" fill="#3a6b34"/>
<circle cx="1103.3" cy="724" r="6.9" fill="#3a6b34"/>
<circle cx="1083.2" cy="728.9" r="6.9" fill="#3a6b34"/>
<circle cx="1092" cy="756.9" r="6.9" fill="#3a6b34"/>
<circle cx="1088.7" cy="824.6" r="6.9" fill="#3a6b34"/>
<circle cx="1098.2" cy="835.5" r="6.9" fill="#3a6b34"/>
<circle cx="1191.1" cy="794.9" r="6.9" fill="#000000"/>
<circle cx="1191.1" cy="809.4" r="6.9" fill="#000000"/>
<circle cx="1177.4" cy="819.4" r="6.9" fill="#000000"/>
<circle cx="1203.9" cy="819.4" r="6.9" fill="#000000"/>
<circle cx="1191.1" cy="861.6" r="6.9" fill="#000000"/>
<circle cx="1257.2" cy="742" r="6.9" fill="#3a6b34"/>
<circle cx="1245" cy="753.1" r="6.9" fill="#3a6b34"/>
<circle cx="1251.1" cy="789.6" r="6.9" fill="#3a6b34"/>
<circle cx="1243.6" cy="888.9" r="6.9" fill="#3a6b34"/>
<circle cx="1258.9" cy="887.8" r="6.9" fill="#3a6b34"/>
<text transform="translate(865.42,691.03) scale(1.0,0.93)" font-size="44" text-anchor="start" font-weight="normal" fill="#000000" stroke="#000000" stroke-width="0.5" letter-spacing="1.9">****</text>
<line x1="872.5" y1="682.9" x2="932.7" y2="682.9" stroke="#000000" stroke-width="2.2" stroke-linecap="round"/>
<text transform="translate(680.3,632) scale(0.88,1.0)" font-size="54.5" text-anchor="start" font-weight="bold" fill="#231f20">E</text>
<rect x="1480.1" y="1020.5" width="39.7" height="85.7" fill="#bfbfbf"/>
<rect x="1540" y="1102.5" width="39.6" height="3.7" fill="#a8c89e"/>
<rect x="1639.2" y="1010.2" width="39.6" height="96" fill="#bfbfbf"/>
<rect x="1699.2" y="957.2" width="39.6" height="149" fill="#a8c89e"/>
<rect x="1798.2" y="1022.3" width="39.6" height="83.9" fill="#bfbfbf"/>
<rect x="1858" y="1038.4" width="39.9" height="67.8" fill="#a8c89e"/>
<line x1="1460.2" y1="646.25" x2="1460.2" y2="1107.45" stroke="#000000" stroke-width="2.5" stroke-linecap="butt"/>
<line x1="1458.95" y1="1106.2" x2="1918.8" y2="1106.2" stroke="#000000" stroke-width="2.5" stroke-linecap="butt"/>
<line x1="1442.2" y1="1106.2" x2="1460.2" y2="1106.2" stroke="#000000" stroke-width="2.3" stroke-linecap="butt"/>
<text transform="translate(1440.8,1118.9) scale(1.0,1.07)" font-size="35" text-anchor="end" font-weight="normal" fill="#000000" stroke="#000000" stroke-width="0.35">0</text>
<line x1="1442.2" y1="1014.44" x2="1460.2" y2="1014.44" stroke="#000000" stroke-width="2.3" stroke-linecap="butt"/>
<text transform="translate(1440.8,1027.14) scale(1.0,1.07)" font-size="35" text-anchor="end" font-weight="normal" fill="#000000" stroke="#000000" stroke-width="0.35">10</text>
<line x1="1442.2" y1="922.68" x2="1460.2" y2="922.68" stroke="#000000" stroke-width="2.3" stroke-linecap="butt"/>
<text transform="translate(1440.8,935.38) scale(1.0,1.07)" font-size="35" text-anchor="end" font-weight="normal" fill="#000000" stroke="#000000" stroke-width="0.35">20</text>
<line x1="1442.2" y1="830.92" x2="1460.2" y2="830.92" stroke="#000000" stroke-width="2.3" stroke-linecap="butt"/>
<text transform="translate(1440.8,843.62) scale(1.0,1.07)" font-size="35" text-anchor="end" font-weight="normal" fill="#000000" stroke="#000000" stroke-width="0.35">30</text>
<line x1="1442.2" y1="739.16" x2="1460.2" y2="739.16" stroke="#000000" stroke-width="2.3" stroke-linecap="butt"/>
<text transform="translate(1440.8,751.86) scale(1.0,1.07)" font-size="35" text-anchor="end" font-weight="normal" fill="#000000" stroke="#000000" stroke-width="0.35">40</text>
<line x1="1442.2" y1="647.4" x2="1460.2" y2="647.4" stroke="#000000" stroke-width="2.3" stroke-linecap="butt"/>
<text transform="translate(1440.8,660.1) scale(1.0,1.07)" font-size="35" text-anchor="end" font-weight="normal" fill="#000000" stroke="#000000" stroke-width="0.35">50</text>
<text transform="translate(1529.9,1140.1)" font-size="35" text-anchor="middle" font-weight="normal" fill="#000000" stroke="#000000" stroke-width="0.35">hM3Dq</text>
<text transform="translate(1689,1140.1)" font-size="35" text-anchor="middle" font-weight="normal" fill="#000000" stroke="#000000" stroke-width="0.35">hM4Di</text>
<text transform="translate(1847.9,1140.1)" font-size="35" text-anchor="middle" font-weight="normal" fill="#000000" stroke="#000000" stroke-width="0.35">mCherry</text>
<text transform="translate(1373,876.05) rotate(-90) scale(1.0,1.06)" font-size="37" text-anchor="middle" font-weight="normal" fill="#000000" stroke="#000000" stroke-width="0.35">Number of REM Bouts</text>
<line x1="1499.8" y1="970.6" x2="1499.8" y2="1069.4" stroke="#000000" stroke-width="2.2" stroke-linecap="butt"/>
<line x1="1490.1" y1="970.6" x2="1509.5" y2="970.6" stroke="#000000" stroke-width="2.2" stroke-linecap="round"/>
<line x1="1490.1" y1="1069.4" x2="1509.5" y2="1069.4" stroke="#000000" stroke-width="2.2" stroke-linecap="round"/>
<line x1="1559.5" y1="1098.4" x2="1559.5" y2="1106.2" stroke="#3a6b34" stroke-width="2.2" stroke-linecap="butt"/>
<line x1="1549.8" y1="1098.4" x2="1569.2" y2="1098.4" stroke="#3a6b34" stroke-width="2.2" stroke-linecap="round"/>
<line x1="1549.8" y1="1106.2" x2="1569.2" y2="1106.2" stroke="#3a6b34" stroke-width="2.2" stroke-linecap="round"/>
<line x1="1658.8" y1="984.7" x2="1658.8" y2="1035.3" stroke="#000000" stroke-width="2.2" stroke-linecap="butt"/>
<line x1="1649.1" y1="984.7" x2="1668.5" y2="984.7" stroke="#000000" stroke-width="2.2" stroke-linecap="round"/>
<line x1="1649.1" y1="1035.3" x2="1668.5" y2="1035.3" stroke="#000000" stroke-width="2.2" stroke-linecap="round"/>
<line x1="1719.1" y1="911" x2="1719.1" y2="1003.3" stroke="#3a6b34" stroke-width="2.2" stroke-linecap="butt"/>
<line x1="1709.4" y1="911" x2="1728.8" y2="911" stroke="#3a6b34" stroke-width="2.2" stroke-linecap="round"/>
<line x1="1709.4" y1="1003.3" x2="1728.8" y2="1003.3" stroke="#3a6b34" stroke-width="2.2" stroke-linecap="round"/>
<line x1="1817.8" y1="1000" x2="1817.8" y2="1043.8" stroke="#000000" stroke-width="2.2" stroke-linecap="butt"/>
<line x1="1808.1" y1="1000" x2="1827.5" y2="1000" stroke="#000000" stroke-width="2.2" stroke-linecap="round"/>
<line x1="1808.1" y1="1043.8" x2="1827.5" y2="1043.8" stroke="#000000" stroke-width="2.2" stroke-linecap="round"/>
<line x1="1877.8" y1="1028.4" x2="1877.8" y2="1048.1" stroke="#3a6b34" stroke-width="2.2" stroke-linecap="butt"/>
<line x1="1868.1" y1="1028.4" x2="1887.5" y2="1028.4" stroke="#3a6b34" stroke-width="2.2" stroke-linecap="round"/>
<line x1="1868.1" y1="1048.1" x2="1887.5" y2="1048.1" stroke="#3a6b34" stroke-width="2.2" stroke-linecap="round"/>
<circle cx="1499.8" cy="830.7" r="6.9" fill="#000000"/>
<circle cx="1512.5" cy="1032.8" r="6.9" fill="#000000"/>
<circle cx="1486.7" cy="1041.8" r="6.9" fill="#000000"/>
<circle cx="1499.8" cy="1087.8" r="6.9" fill="#000000"/>
<circle cx="1499.8" cy="1105.9" r="6.9" fill="#000000"/>
<circle cx="1559" cy="1087.7" r="6.9" fill="#3a6b34"/>
<circle cx="1546.5" cy="1106" r="6.9" fill="#3a6b34"/>
<circle cx="1554.8" cy="1106" r="6.9" fill="#3a6b34"/>
<circle cx="1563.7" cy="1106" r="6.9" fill="#3a6b34"/>
<circle cx="1572.6" cy="1106" r="6.9" fill="#3a6b34"/>
<circle cx="1658.9" cy="876.7" r="6.9" fill="#000000"/>
<circle cx="1658.9" cy="940.9" r="6.9" fill="#000000"/>
<circle cx="1658.8" cy="986.5" r="6.9" fill="#000000"/>
<circle cx="1658.8" cy="1014.4" r="6.9" fill="#000000"/>
<circle cx="1658.8" cy="1032.6" r="6.9" fill="#000000"/>
<circle cx="1658.8" cy="1069.4" r="6.9" fill="#000000"/>
<circle cx="1645.9" cy="1078.6" r="6.9" fill="#000000"/>
<circle cx="1671.8" cy="1078.6" r="6.9" fill="#000000"/>
<circle cx="1719.1" cy="692.8" r="6.9" fill="#3a6b34"/>
<circle cx="1719" cy="860.6" r="6.9" fill="#3a6b34"/>
<circle cx="1731.8" cy="950" r="6.9" fill="#3a6b34"/>
<circle cx="1706" cy="959.4" r="6.9" fill="#3a6b34"/>
<circle cx="1719.1" cy="986.8" r="6.9" fill="#3a6b34"/>
<circle cx="1705.9" cy="1050.9" r="6.9" fill="#3a6b34"/>
<circle cx="1731.8" cy="1060.2" r="6.9" fill="#3a6b34"/>
<circle cx="1719.1" cy="1096.8" r="6.9" fill="#3a6b34"/>
<circle cx="1817.8" cy="968.4" r="6.9" fill="#000000"/>
<circle cx="1817.8" cy="987" r="6.9" fill="#000000"/>
<circle cx="1817.8" cy="1014.3" r="6.9" fill="#000000"/>
<circle cx="1817.8" cy="1051.4" r="6.9" fill="#000000"/>
<circle cx="1817.8" cy="1087.8" r="6.9" fill="#000000"/>
<circle cx="1864.8" cy="1014.3" r="6.9" fill="#3a6b34"/>
<circle cx="1891" cy="1023.6" r="6.9" fill="#3a6b34"/>
<circle cx="1864.8" cy="1032.7" r="6.9" fill="#3a6b34"/>
<circle cx="1864.8" cy="1060" r="6.9" fill="#3a6b34"/>
<circle cx="1891" cy="1060" r="6.9" fill="#3a6b34"/>
<text transform="translate(1318.12,632) scale(0.9,1.0)" font-size="54.5" text-anchor="start" font-weight="bold" fill="#231f20">F</text>
<rect x="453.4" y="72.3" width="192.5" height="93.4" fill="none" stroke="#000000" stroke-width="2.2"/>
<circle cx="476.7" cy="96.7" r="6.9" fill="#000000"/>
<circle cx="476.7" cy="136.2" r="6.9" fill="#3a6b34"/>
<text transform="translate(528.5,109.3) scale(1.0,1.06)" font-size="34" text-anchor="start" font-weight="normal" fill="#000000" stroke="#000000" stroke-width="0.35">Vehicle</text>
<text transform="translate(529.2,148.75) scale(1.0,1.06)" font-size="34" text-anchor="start" font-weight="normal" fill="#000000" stroke="#000000" stroke-width="0.35">CNO</text>
</svg>
</body></html>
